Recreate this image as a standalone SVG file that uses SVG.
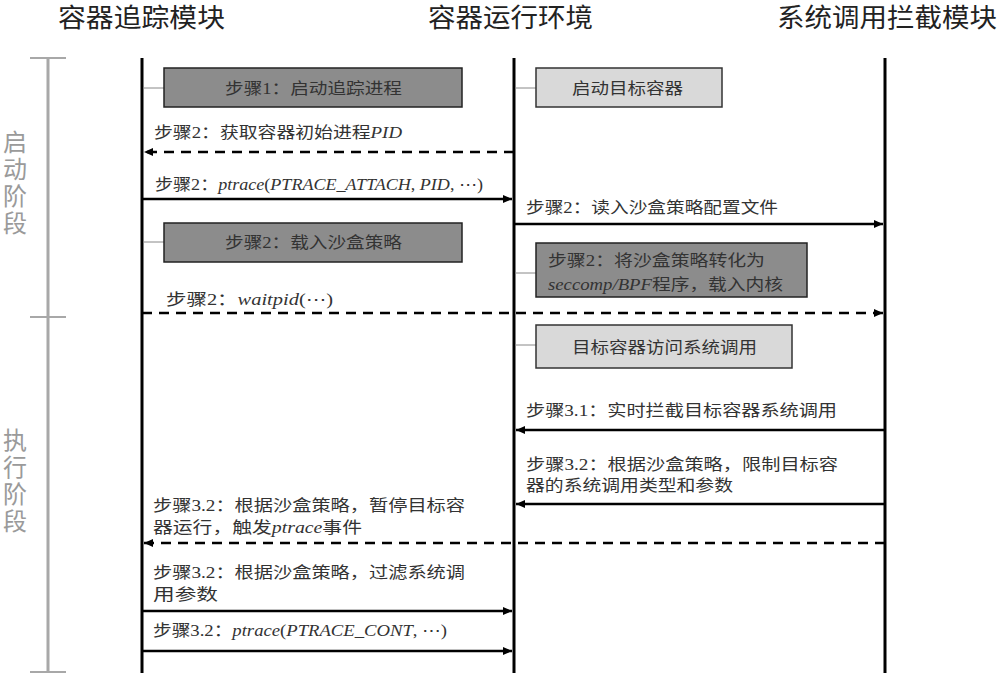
<svg xmlns="http://www.w3.org/2000/svg" width="1000" height="676" viewBox="0 0 1000 676">
<style>
text{font-family:"Liberation Serif","Noto Sans CJK SC",serif}
.hdr{font-size:26px;fill:#222}
.phase{font-size:24px;fill:#9a9a9a;text-anchor:middle}
.msg{font-size:16px;fill:#333}
.it{font-style:italic}
.el{font-family:"DejaVu Sans",sans-serif;font-style:normal}
.life{stroke:#000;stroke-width:3}
.brk{stroke:#a8a8a8;stroke-width:3}
.tick{stroke:#a8a8a8;stroke-width:2}
.arr{stroke:#000;stroke-width:2.5;fill:none}
.dash{stroke-dasharray:10 7}
.dark{fill:#8c8c8c;stroke:#222;stroke-width:1.5}
.light{fill:#d9d9d9;stroke:#333;stroke-width:1.5}
.con{stroke:#888;stroke-width:1}
</style>
<defs>
<marker id="ah" markerUnits="userSpaceOnUse" markerWidth="10" markerHeight="10" refX="9" refY="4" orient="auto">
<path d="M0,0 L9,4 L0,8 z" fill="#000"/>
</marker>
</defs>
<rect width="1000" height="676" fill="#fff"/>

<g id="headers">
<text class="hdr" x="58" y="27" textLength="167" lengthAdjust="spacingAndGlyphs">容器追踪模块</text>
<text class="hdr" x="428" y="27" textLength="165" lengthAdjust="spacingAndGlyphs">容器运行环境</text>
<text class="hdr" x="777" y="27" textLength="220" lengthAdjust="spacingAndGlyphs">系统调用拦截模块</text>
</g>

<g id="phases">
<line class="brk" x1="48" y1="58" x2="48" y2="672"/>
<line class="tick" x1="30" y1="58" x2="66" y2="58"/>
<line class="tick" x1="30" y1="317" x2="66" y2="317"/>
<line class="tick" x1="30" y1="672" x2="66" y2="672"/>
<text class="phase" x="15" y="151">启</text>
<text class="phase" x="15" y="178">动</text>
<text class="phase" x="15" y="205">阶</text>
<text class="phase" x="15" y="232">段</text>
<text class="phase" x="15" y="449">执</text>
<text class="phase" x="15" y="476">行</text>
<text class="phase" x="15" y="503">阶</text>
<text class="phase" x="15" y="530">段</text>
</g>

<g id="lifelines">
<line class="life" x1="142" y1="58" x2="142" y2="673"/>
<line class="life" x1="514" y1="58" x2="514" y2="673"/>
<line class="life" x1="885" y1="58" x2="885" y2="673"/>
</g>

<g id="box1">
<line class="con" x1="143" y1="88" x2="164" y2="88"/>
<rect class="dark" x="164" y="68" width="298" height="39"/>
<text class="msg" x="225" y="94" textLength="177" lengthAdjust="spacingAndGlyphs">步骤1：启动追踪进程</text>
</g>
<g id="box2">
<line class="con" x1="515" y1="88" x2="536" y2="88"/>
<rect class="light" x="536" y="68" width="186" height="39"/>
<text class="msg" x="572" y="94" textLength="111" lengthAdjust="spacingAndGlyphs">启动目标容器</text>
</g>
<g id="box6">
<line class="con" x1="143" y1="242" x2="164" y2="242"/>
<rect class="dark" x="164" y="223" width="298" height="39"/>
<text class="msg" x="225" y="248" textLength="177" lengthAdjust="spacingAndGlyphs">步骤2：载入沙盒策略</text>
</g>
<g id="box7">
<line class="con" x1="515" y1="273" x2="536" y2="273"/>
<rect class="dark" x="536" y="243" width="271" height="54"/>
<text class="msg" x="548" y="266" textLength="217" lengthAdjust="spacingAndGlyphs">步骤2：将沙盒策略转化为</text>
<text class="msg" x="548" y="290" textLength="235" lengthAdjust="spacingAndGlyphs"><tspan class="it">seccomp/BPF</tspan>程序，载入内核</text>
</g>
<g id="box9">
<line class="con" x1="515" y1="345" x2="536" y2="345"/>
<rect class="light" x="536" y="325" width="256" height="43"/>
<text class="msg" x="572" y="353" textLength="185" lengthAdjust="spacingAndGlyphs">目标容器访问系统调用</text>
</g>

<g id="connectors">
<line class="arr dash" x1="514" y1="152" x2="144" y2="152" marker-end="url(#ah)"/>
<line class="arr" x1="142" y1="199" x2="512" y2="199" marker-end="url(#ah)"/>
<line class="arr" x1="514" y1="224" x2="883" y2="224" marker-end="url(#ah)"/>
<line class="arr dash" x1="142" y1="313" x2="883" y2="313" marker-end="url(#ah)"/>
<line class="arr" x1="885" y1="430" x2="516" y2="430" marker-end="url(#ah)"/>
<line class="arr" x1="885" y1="504" x2="516" y2="504" marker-end="url(#ah)"/>
<line class="arr dash" x1="885" y1="543" x2="144" y2="543" marker-end="url(#ah)"/>
<line class="arr" x1="142" y1="611" x2="512" y2="611" marker-end="url(#ah)"/>
<line class="arr" x1="142" y1="651" x2="512" y2="651" marker-end="url(#ah)"/>
</g>

<g id="labels">
<text class="msg" x="154" y="138" textLength="248" lengthAdjust="spacingAndGlyphs">步骤2：获取容器初始进程<tspan class="it">PID</tspan></text>
<text class="msg" x="155" y="190" textLength="328" lengthAdjust="spacingAndGlyphs">步骤2：<tspan class="it">ptrace</tspan>(<tspan class="it">PTRACE_ATTACH</tspan>, <tspan class="it">PID</tspan>, <tspan class="el">⋯</tspan>)</text>
<text class="msg" x="526" y="213" textLength="252" lengthAdjust="spacingAndGlyphs">步骤2：读入沙盒策略配置文件</text>
<text class="msg" x="166" y="305" textLength="167" lengthAdjust="spacingAndGlyphs">步骤2：<tspan class="it">waitpid</tspan>(<tspan class="el">⋯</tspan>)</text>
<text class="msg" x="526" y="416" textLength="311" lengthAdjust="spacingAndGlyphs">步骤3.1：实时拦截目标容器系统调用</text>
<text class="msg" x="526" y="470" textLength="312" lengthAdjust="spacingAndGlyphs">步骤3.2：根据沙盒策略，限制目标容</text>
<text class="msg" x="526" y="491" textLength="207" lengthAdjust="spacingAndGlyphs">器的系统调用类型和参数</text>
<text class="msg" x="153" y="511" textLength="312" lengthAdjust="spacingAndGlyphs">步骤3.2：根据沙盒策略，暂停目标容</text>
<text class="msg" x="153" y="533" textLength="209" lengthAdjust="spacingAndGlyphs">器运行，触发<tspan class="it">ptrace</tspan>事件</text>
<text class="msg" x="153" y="578" textLength="312" lengthAdjust="spacingAndGlyphs">步骤3.2：根据沙盒策略，过滤系统调</text>
<text class="msg" x="153" y="600" textLength="65" lengthAdjust="spacingAndGlyphs">用参数</text>
<text class="msg" x="153" y="636" textLength="294" lengthAdjust="spacingAndGlyphs">步骤3.2：<tspan class="it">ptrace</tspan>(<tspan class="it">PTRACE_CONT</tspan>, <tspan class="el">⋯</tspan>)</text>
</g>
</svg>
